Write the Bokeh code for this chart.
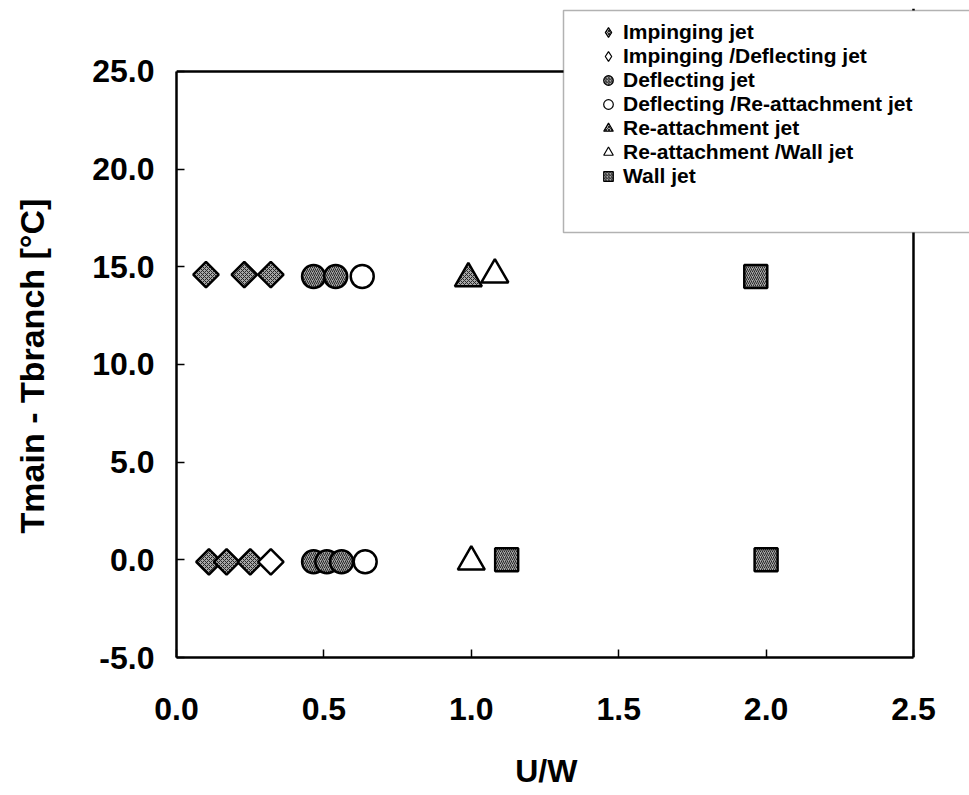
from bokeh.plotting import figure
from bokeh.models import (FixedTicker, NumeralTickFormatter, Legend, LegendItem,
                          BoxAnnotation, Range1d, Span)
from bokeh.embed import file_html
from bokeh.resources import INLINE

# U/W and temperature difference per flow regime
impinging_x = [0.11, 0.17, 0.25, 0.10, 0.23, 0.32]
impinging_y = [-0.1, -0.1, -0.1, 14.6, 14.6, 14.6]

imp_def_x = [0.32]
imp_def_y = [-0.1]

deflecting_x = [0.465, 0.51, 0.56, 0.465, 0.54]
deflecting_y = [-0.1, -0.1, -0.1, 14.5, 14.5]

def_reatt_x = [0.64, 0.63]
def_reatt_y = [-0.1, 14.5]

reatt_x = [0.99]
reatt_y = [14.4]

reatt_wall_x = [1.0, 1.08]
reatt_wall_y = [-0.1, 14.6]

wall_x = [1.12, 2.0, 1.965]
wall_y = [0.0, 0.0, 14.5]

x_ticks = [0.0, 0.5, 1.0, 1.5, 2.0, 2.5]
y_ticks = [-5, 0, 5, 10, 15, 20, 25]
x_limits = (0.0, 2.5)
y_limits = (-5.0, 25.0)

FONT = "Liberation Sans"
NBSP = "\u00a0"

# The frame reaches the top and right canvas edges so the legend box can sit over
# the upper-right corner of the axes rectangle; the axes rectangle itself is drawn
# by the axis bounds plus two spans.
p = figure(width=969, height=795, x_range=Range1d(0, 2.69), y_range=Range1d(-5, 28.225),
           output_backend="svg", toolbar_location=None,
           min_border_left=176, min_border_right=0, min_border_top=8, min_border_bottom=138)

p.background_fill_color = "white"
p.border_fill_color = "white"
p.outline_line_color = None
p.xgrid.visible = False
p.ygrid.visible = False

for ax, ticks, lim in ((p.xaxis, x_ticks, x_limits), (p.yaxis, y_ticks, y_limits)):
    ax.ticker = FixedTicker(ticks=ticks)
    ax.formatter = NumeralTickFormatter(format="0.0")
    ax.bounds = lim
    ax.minor_tick_line_color = None
    ax.major_tick_in = 8
    ax.major_tick_out = 0
    ax.major_tick_line_width = 1.5
    ax.major_tick_line_color = "black"
    ax.axis_line_width = 2.5
    ax.axis_line_color = "black"
    ax.major_label_text_font = FONT
    ax.major_label_text_font_style = "bold"
    ax.major_label_text_font_size = "32px"
    ax.major_label_text_color = "black"
    ax.axis_label_text_font = FONT
    ax.axis_label_text_font_style = "bold"
    ax.axis_label_text_color = "black"

# axis titles are centred on the axes rectangle rather than on the wider frame,
# hence the trailing non-breaking spaces
p.xaxis.axis_label = "U/W" + NBSP * 6
p.xaxis.axis_label_text_font_size = "32px"
p.yaxis.axis_label = "Tmain - Tbranch [°C]" + NBSP * 7
p.yaxis.axis_label_text_font_size = "34px"
p.xaxis.major_label_standoff = 40
p.xaxis.axis_label_standoff = 30
p.yaxis.major_label_standoff = 22
p.yaxis.axis_label_standoff = 38

p.add_layout(Span(location=y_limits[1], dimension="width", line_color="black", line_width=2.5))
p.add_layout(Span(location=x_limits[1], dimension="height", line_color="black", line_width=2.5))

filled = dict(line_color="black", line_width=2.5, fill_color="#a6a6a6",
              hatch_color="#262626", hatch_scale=4, hatch_weight=1)
hollow = dict(line_color="black", line_width=2.5, fill_color="white")
QUARTER = 0.785398  # squares turned into diamonds

series = [
    ("Impinging jet", impinging_x, impinging_y,
     dict(marker="square", angle=QUARTER, size=18, hatch_pattern="x", **filled),
     dict(marker="diamond", hatch_pattern="x")),
    ("Impinging /Deflecting jet", imp_def_x, imp_def_y,
     dict(marker="square", angle=QUARTER, size=18, **hollow),
     dict(marker="diamond")),
    ("Deflecting jet", deflecting_x, deflecting_y,
     dict(marker="circle", size=23, hatch_pattern="/", **filled),
     dict(marker="circle", hatch_pattern="/")),
    ("Deflecting /Re-attachment jet", def_reatt_x, def_reatt_y,
     dict(marker="circle", size=23, **hollow),
     dict(marker="circle")),
    ("Re-attachment jet", reatt_x, reatt_y,
     dict(marker="triangle", size=27, hatch_pattern="x", **filled),
     dict(marker="triangle", hatch_pattern="x")),
    ("Re-attachment /Wall jet", reatt_wall_x, reatt_wall_y,
     dict(marker="triangle", size=27, **hollow),
     dict(marker="triangle")),
    ("Wall jet", wall_x, wall_y,
     dict(marker="square", size=23, hatch_pattern="/", **filled),
     dict(marker="square", hatch_pattern="/")),
]

items = []
for label, xs, ys, style, key in series:
    # legend key: zero-size copy of the series under the real markers; the legend
    # sizes its symbol from the row box, so it shows up only there
    base = filled if "hatch_pattern" in key else hollow
    key_style = dict(base, line_width=1.2)
    key_style.update(key)
    if "hatch_pattern" in key:
        key_style["hatch_scale"] = 3
    r_key = p.scatter(xs, ys, size=0, **key_style)
    p.scatter(xs, ys, **style)
    items.append(LegendItem(label=label, renderers=[r_key]))

# legend frame, running off the right edge of the canvas
box = BoxAnnotation(left=563, right=990, top=10, bottom=232,
                    left_units="canvas", right_units="canvas",
                    top_units="canvas", bottom_units="canvas",
                    fill_color="white", fill_alpha=1.0,
                    line_color="black", line_width=1.5)
p.add_layout(box)

legend = Legend(items=items, location=(419, 469), padding=5, spacing=0,
                glyph_width=26, glyph_height=24, label_height=24, label_standoff=2,
                label_text_font=FONT, label_text_font_style="bold",
                label_text_font_size="21px", label_text_color="black",
                border_line_color=None, background_fill_alpha=0.0)
p.add_layout(legend)

open("out.html", "w").write(file_html(p, INLINE))
